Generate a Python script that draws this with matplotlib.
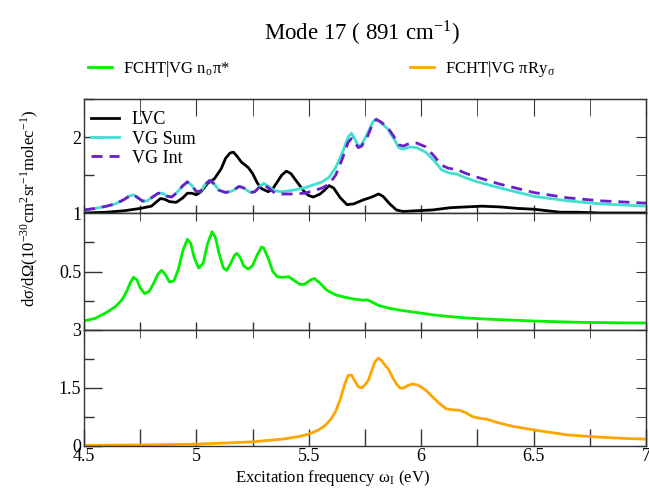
import matplotlib
matplotlib.use("Agg")
import matplotlib.pyplot as plt
from matplotlib.ticker import MultipleLocator, FixedLocator
from matplotlib.lines import Line2D

plt.rcParams['font.family'] = ['Liberation Serif', 'DejaVu Serif']
plt.rcParams['mathtext.fontset'] = 'stix'

# ---- data ----
lvc_x = [4.5, 4.6, 4.68, 4.75, 4.80, 4.82, 4.84, 4.86, 4.88, 4.91, 4.94, 4.96, 4.98,
         5.00, 5.02, 5.05, 5.08, 5.11, 5.13, 5.15, 5.165, 5.18, 5.20, 5.23, 5.25,
         5.27, 5.29, 5.32, 5.34, 5.36, 5.38, 5.40, 5.42, 5.45, 5.48, 5.50, 5.52,
         5.55, 5.57, 5.59, 5.61, 5.64, 5.67, 5.70, 5.74, 5.78, 5.81, 5.83, 5.86,
         5.89, 5.92, 5.98, 6.05, 6.13, 6.20, 6.27, 6.35, 6.43, 6.50, 6.56, 6.62,
         6.70, 6.80, 6.90, 7.0]
lvc_y = [1.0, 1.01, 1.03, 1.06, 1.09, 1.14, 1.19, 1.18, 1.15, 1.14, 1.20, 1.26, 1.26,
         1.24, 1.28, 1.39, 1.45, 1.58, 1.72, 1.79, 1.80, 1.75, 1.67, 1.60, 1.52,
         1.40, 1.32, 1.28, 1.32, 1.41, 1.50, 1.55, 1.52, 1.40, 1.28, 1.23, 1.21,
         1.25, 1.30, 1.36, 1.33, 1.20, 1.11, 1.12, 1.17, 1.21, 1.25, 1.22, 1.12,
         1.04, 1.02, 1.03, 1.04, 1.07, 1.08, 1.09, 1.08, 1.06, 1.05, 1.03, 1.01,
         1.01, 1.0, 1.0, 1.0]

vg_x = [4.5, 4.55, 4.60, 4.64, 4.68, 4.70, 4.72, 4.74, 4.76, 4.78, 4.80, 4.83, 4.85,
        4.87, 4.89, 4.91, 4.94, 4.96, 4.98, 5.00, 5.02, 5.04, 5.06, 5.08, 5.10,
        5.13, 5.16, 5.19, 5.21, 5.24, 5.26, 5.28, 5.30, 5.32, 5.35, 5.38, 5.43,
        5.48, 5.52, 5.56, 5.59, 5.62, 5.65, 5.675, 5.69, 5.705, 5.72, 5.735, 5.76,
        5.785, 5.80, 5.82, 5.85, 5.88, 5.90, 5.92, 5.95, 5.98, 6.02, 6.06, 6.09,
        6.12, 6.16, 6.20, 6.25, 6.35, 6.50, 6.65, 6.80, 7.0]
vgsum_y = [1.04, 1.06, 1.09, 1.12, 1.18, 1.22, 1.24, 1.20, 1.15, 1.16, 1.20, 1.26, 1.26,
           1.22, 1.21, 1.26, 1.36, 1.41, 1.36, 1.28, 1.29, 1.38, 1.43, 1.38, 1.30,
           1.27, 1.29, 1.35, 1.33, 1.27, 1.28, 1.35, 1.39, 1.35, 1.29, 1.28, 1.30,
           1.33, 1.37, 1.41, 1.47, 1.60, 1.80, 2.00, 2.05, 1.97, 1.88, 1.90, 2.04,
           2.20, 2.24, 2.19, 2.11, 1.97, 1.86, 1.84, 1.87, 1.86, 1.80, 1.68, 1.57,
           1.53, 1.51, 1.46, 1.41, 1.33, 1.22, 1.16, 1.12, 1.09]
vgint_y = [1.04, 1.06, 1.09, 1.12, 1.18, 1.22, 1.24, 1.20, 1.16, 1.16, 1.20, 1.26, 1.26,
           1.22, 1.21, 1.26, 1.36, 1.41, 1.36, 1.28, 1.29, 1.38, 1.43, 1.38, 1.30,
           1.27, 1.29, 1.35, 1.33, 1.27, 1.28, 1.34, 1.37, 1.33, 1.26, 1.25, 1.25,
           1.26, 1.29, 1.33, 1.38, 1.50, 1.72, 1.93, 1.98, 1.93, 1.86, 1.88, 2.00,
           2.18, 2.23, 2.20, 2.13, 2.00, 1.90, 1.88, 1.92, 1.92, 1.87, 1.74, 1.63,
           1.59, 1.57, 1.52, 1.47, 1.38, 1.27, 1.20, 1.16, 1.13]

npi_x = [4.5, 4.55, 4.60, 4.64, 4.67, 4.69, 4.705, 4.72, 4.735, 4.75, 4.77, 4.79, 4.81,
         4.83, 4.845, 4.86, 4.88, 4.90, 4.92, 4.94, 4.96, 4.975, 4.99, 5.01, 5.03,
         5.05, 5.07, 5.085, 5.10, 5.12, 5.135, 5.15, 5.17, 5.18, 5.195, 5.21, 5.23,
         5.25, 5.27, 5.29, 5.30, 5.32, 5.34, 5.36, 5.38, 5.41, 5.43, 5.46, 5.48,
         5.51, 5.525, 5.55, 5.58, 5.62, 5.66, 5.70, 5.74, 5.76, 5.78, 5.81, 5.86,
         5.92, 5.98, 6.05, 6.13, 6.20, 6.28, 6.40, 6.50, 6.60, 6.72, 6.85, 7.0]
npi_y = [0.077, 0.10, 0.15, 0.20, 0.26, 0.33, 0.40, 0.45, 0.43, 0.36, 0.31, 0.33, 0.40,
         0.48, 0.51, 0.48, 0.41, 0.42, 0.52, 0.68, 0.775, 0.74, 0.62, 0.53, 0.57,
         0.74, 0.84, 0.79, 0.66, 0.53, 0.51, 0.56, 0.64, 0.655, 0.62, 0.55, 0.52,
         0.55, 0.64, 0.71, 0.70, 0.61, 0.50, 0.455, 0.45, 0.455, 0.43, 0.39, 0.39,
         0.43, 0.44, 0.40, 0.34, 0.30, 0.28, 0.265, 0.255, 0.258, 0.24, 0.21, 0.185,
         0.165, 0.15, 0.13, 0.114, 0.103, 0.094, 0.085, 0.077, 0.071, 0.065, 0.062, 0.06]

ry_x = [4.5, 4.76, 5.0, 5.25, 5.38, 5.45, 5.50, 5.54, 5.57, 5.60, 5.62, 5.64, 5.66,
        5.675, 5.69, 5.705, 5.72, 5.735, 5.75, 5.765, 5.78, 5.795, 5.81, 5.825, 5.84,
        5.855, 5.87, 5.89, 5.905, 5.92, 5.94, 5.96, 5.98, 6.00, 6.02, 6.05, 6.08,
        6.11, 6.14, 6.17, 6.20, 6.23, 6.26, 6.29, 6.34, 6.40, 6.50, 6.58, 6.65,
        6.72, 6.80, 6.90, 7.0]
ry_y = [0.01, 0.02, 0.04, 0.10, 0.17, 0.23, 0.30, 0.40, 0.51, 0.70, 0.90, 1.20, 1.60,
        1.82, 1.83, 1.68, 1.53, 1.50, 1.58, 1.70, 1.95, 2.18, 2.27, 2.20, 2.08,
        1.98, 1.80, 1.60, 1.50, 1.49, 1.56, 1.60, 1.58, 1.52, 1.44, 1.27, 1.10,
        0.96, 0.93, 0.92, 0.85, 0.75, 0.71, 0.69, 0.60, 0.51, 0.41, 0.34, 0.28,
        0.25, 0.22, 0.19, 0.17]

col_green = '#00f000'
col_orange = '#ffa500'
col_cyan = '#40e0d0'
col_purple = '#6a1fc8'
col_axis = '#333333'
lw = 2.0

W, H = 649, 491
fig = plt.figure(figsize=(W / 100, H / 100), dpi=100)

def box(top, bot):
    return [84 / W, (H - bot) / H, 562 / W, (bot - top) / H]

ax1 = fig.add_axes(box(99, 213))
ax2 = fig.add_axes(box(213, 330))
ax3 = fig.add_axes(box(330, 445.7))

ax1.plot(lvc_x, lvc_y, color='black', lw=lw, label='LVC')
ax1.plot(vg_x, vgsum_y, color=col_cyan, lw=lw, label='VG Sum')
ax1.plot(vg_x, vgint_y, color=col_purple, lw=lw, ls=(0, (4, 2.5)), label='VG Int')
ax2.plot(npi_x, npi_y, color=col_green, lw=lw)
ax3.plot(ry_x, ry_y, color=col_orange, lw=lw)

ylims = {ax1: (1, 2.5), ax2: (0, 1), ax3: (0, 3)}
ymaj = {ax1: [1, 2], ax2: [0.5], ax3: [0, 1.5, 3]}
ymin = {ax1: [1.5, 2.5], ax2: [0.25, 0.75], ax3: [0.75, 2.25]}
bottom_len = {ax1: 6, ax2: 6, ax3: 12}
top_len = {ax1: 12, ax2: 6, ax3: 6}

fmt = plt.FuncFormatter(lambda v, p: f"{v:g}")
for ax in (ax1, ax2, ax3):
    ax.set_xlim(4.5, 7)
    ax.set_ylim(*ylims[ax])
    ax.xaxis.set_major_locator(MultipleLocator(0.5))
    ax.xaxis.set_minor_locator(MultipleLocator(0.25))
    ax.yaxis.set_major_locator(FixedLocator(ymaj[ax]))
    ax.yaxis.set_minor_locator(FixedLocator(ymin[ax]))
    ax.xaxis.set_major_formatter(fmt)
    ax.yaxis.set_major_formatter(fmt)
    ax.tick_params(which='both', direction='in', top=False, right=False,
                   labelsize=13, color=col_axis, width=1, pad=2)
    ax.tick_params(axis='x', which='both', length=bottom_len[ax])
    ax.tick_params(axis='y', which='major', length=13)
    ax.tick_params(axis='y', which='minor', length=7)
    for s in ax.spines.values():
        s.set_color(col_axis)
        s.set_linewidth(1)

    # top and right ticks with their own lengths
    sx = ax.secondary_xaxis('top')
    sx.xaxis.set_major_locator(MultipleLocator(0.5))
    sx.xaxis.set_minor_locator(MultipleLocator(0.25))
    sx.tick_params(which='both', direction='in', length=top_len[ax], color=col_axis,
                   labeltop=False)
    sx.spines['top'].set_color(col_axis)
    sy = ax.secondary_yaxis('right')
    sy.yaxis.set_major_locator(FixedLocator(ymaj[ax]))
    sy.yaxis.set_minor_locator(FixedLocator(ymin[ax]))
    sy.tick_params(which='both', direction='in', length=7, color=col_axis,
                   labelright=False)
    sy.spines['right'].set_color(col_axis)

for ax in (ax1, ax2):
    ax.tick_params(labelbottom=False)

ax1.legend(loc='upper left', bbox_to_anchor=(0.0, 0.955), frameon=False, fontsize=13,
           handlelength=1.55, handletextpad=0.7, labelspacing=0.12, borderaxespad=0)

fig.legend(handles=[Line2D([], [], color=col_green, lw=lw)],
           labels=[r"FCHT|VG n$_\mathregular{o}$π*"],
           loc='center left', bbox_to_anchor=(88 / W, 1 - 69 / H), frameon=False,
           fontsize=12, handlelength=1.45, handletextpad=0.65, borderpad=0,
           borderaxespad=0)
fig.legend(handles=[Line2D([], [], color=col_orange, lw=lw)],
           labels=[r"FCHT|VG πRy$_\mathregular{σ}$"],
           loc='center left', bbox_to_anchor=(410 / W, 1 - 69 / H), frameon=False,
           fontsize=12, handlelength=1.45, handletextpad=0.65, borderpad=0,
           borderaxespad=0)

fig.text(362 / W, 1 - 33 / H, r"Mode 17 ( 891 cm$^\mathregular{-1}$)",
         ha='center', va='center', fontsize=16.5)
fig.text(29 / W, 1 - 208 / H,
         r"dσ/dΩ(10$^\mathregular{-30}$cm$^\mathregular{2}$sr$^\mathregular{-1}$molec$^\mathregular{-1}$)",
         rotation=90, ha='center', va='center', fontsize=12)
fig.text(332 / W, 1 - 478 / H, r"Excitation frequency ω$_\mathregular{I}$ (eV)",
         ha='center', va='center', fontsize=12)

fig.savefig('out.png', dpi=100)
